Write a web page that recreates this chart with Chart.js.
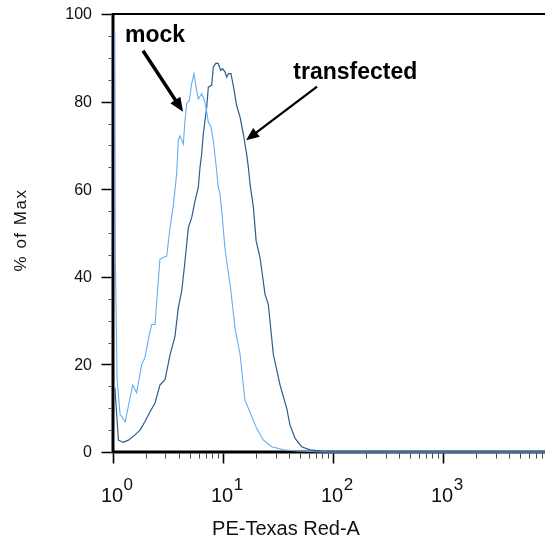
<!DOCTYPE html>
<html>
<head>
<meta charset="utf-8">
<script src="https://cdn.jsdelivr.net/npm/chart.js@4.4.1/dist/chart.umd.min.js"></script>
<style>
  html, body { margin: 0; padding: 0; background: #fff; }
  #wrap { width: 545px; height: 539px; }
</style>
</head>
<body>
<div id="wrap"><canvas id="histo" width="545" height="539"></canvas></div>
<script>
// PE-Texas Red-A fluorescence histograms (% of max), mock vs transfected
const mockFluor = [1.04, 1.05, 1.09, 1.16, 1.20, 1.29, 1.37, 1.51, 1.64, 1.82, 1.95, 2.17, 2.25, 2.41,
  2.58, 2.67, 2.85, 3.08, 3.30, 3.53, 3.79, 3.92, 4.06, 4.36, 4.51, 4.68, 4.94, 5.19, 5.45, 5.76, 5.96,
  6.40, 6.72, 7.00, 7.35, 7.73, 8.16, 8.63, 9.06, 9.39, 9.73, 10.4, 10.9, 11.6, 12.9, 14.3, 15.8, 17.0,
  20.2, 23.3, 27.7, 35.3, 43.6, 76, 8450];
const mockPct = [96.0, 44.0, 16.5, 8.5, 8.1, 6.9, 10.1, 15.3, 13.5, 19.9, 21.5, 27.6, 29.1, 29.1,
  39.0, 44.0, 44.4, 44.7, 51.3, 56.2, 63.5, 71.1, 72.2, 70.3, 75.7, 79.5, 80.3, 84.1, 86.4, 82.5, 80.6,
  81.8, 80.6, 78.7, 75.3, 74.5, 71.1, 65.7, 60.4, 58.9, 55.1, 46.7, 42.8, 38.3, 28.0, 22.2, 11.9, 10.0,
  5.4, 2.7, 1.2, 0.5, 0.3, 0, 0];

const transfectedFluor = [1.04, 1.12, 1.24, 1.38, 1.585, 1.76, 1.95, 2.17, 2.41, 2.67, 2.97, 3.30, 3.66,
  3.92, 4.21, 4.51, 4.84, 5.19, 5.56, 5.96, 6.18, 6.40, 6.62, 7.11, 7.35, 7.89, 8.16, 8.63, 9.06, 9.53,
  9.94, 10.4, 10.8, 11.2, 11.8, 12.4, 13.3, 14.3, 15.3, 16.4, 17.0, 17.6, 18.9, 20.0, 21.7, 24.1, 25.8,
  28.7, 33.0, 37.9, 40.6, 45.2, 51.9, 61.7, 71.1, 90, 8450];
const transfectedPct = [14.7, 2.7, 2.2, 2.7, 3.9, 5.0, 6.9, 9.2, 11.2, 15.3, 16.5, 22.2, 26.4,
  32.9, 36.7, 43.5, 51.2, 53.5, 57.3, 60.4, 65.0, 68.0, 72.6, 78.7, 83.3, 83.7, 87.9, 88.8, 88.7, 87.1,
  87.5, 86.8, 85.6, 86.4, 86.4, 83.7, 79.1, 76.4, 72.6, 68.0, 65.0, 61.2, 55.8, 48.2, 44.4, 36.0, 33.7,
  22.2, 15.3, 10.0, 6.2, 3.1, 1.2, 0.5, 0.3, 0, 0];

// axis ticks
const yTickValues = [0, 20, 40, 60, 80, 100];
const xDecades = [0, 1, 2, 3];
const X_MIN = 1, X_MAX = 8450;

const xTitle = 'PE-Texas Red-A';
const yTitle = '% of Max';

// callouts, positioned in data units
const callouts = [
  { text: 'mock', at: [1.285, 93.5], from: [1.875, 91.6], to: [4.33, 77.7], lw: 3.5, head: 14, headW: 12 },
  { text: 'transfected', at: [43.6, 85.2], from: [71.6, 83.4], to: [16.2, 71.2], lw: 2.2, head: 13, headW: 11 }
];

const toPoints = (xs, ys) => xs.map((v, i) => ({ x: v, y: ys[i] }));
const FONT = '"Liberation Sans", Arial, Helvetica, sans-serif';

const axesPlugin = {
  id: 'flowAxes',
  beforeDatasetsDraw(chart) {
    const { ctx, chartArea: { left, right, top, bottom }, scales: { x, y } } = chart;
    ctx.save();
    ctx.strokeStyle = '#000';
    ctx.lineCap = 'butt';

    // frame: left, bottom (heavy) and top
    ctx.lineWidth = 3;
    ctx.beginPath();
    ctx.moveTo(left, top - 1);
    ctx.lineTo(left, bottom + 1.5);
    ctx.moveTo(left - 1.5, bottom);
    ctx.lineTo(right, bottom);
    ctx.stroke();
    ctx.lineWidth = 2;
    ctx.beginPath();
    ctx.moveTo(left, top);
    ctx.lineTo(right, top);
    ctx.stroke();

    // y ticks: major every 20, minor every 5
    for (let v = 0; v <= 100; v += 5) {
      const py = Math.round(y.getPixelForValue(v)) + 0.5;
      const major = v % 20 === 0;
      ctx.lineWidth = major ? 1.5 : 1;
      ctx.strokeStyle = major ? '#000' : '#555';
      ctx.beginPath();
      ctx.moveTo(left - 1.5 - (major ? 10 : 3), py);
      ctx.lineTo(left - 1.5, py);
      ctx.stroke();
    }

    // x ticks: decades long, 2..9 short
    for (let d = 0; d <= 3; d++) {
      for (let m = 1; m <= 9; m++) {
        const v = m * Math.pow(10, d);
        if (v > X_MAX) break;
        const px = Math.round(x.getPixelForValue(v)) + 0.5;
        const major = m === 1;
        ctx.lineWidth = major ? 1.6 : 1;
        ctx.strokeStyle = major ? '#000' : '#444';
        ctx.beginPath();
        ctx.moveTo(px, bottom + 1.5);
        ctx.lineTo(px, bottom + 1.5 + (major ? 10 : 5));
        ctx.stroke();
      }
    }

    // y tick labels
    ctx.fillStyle = '#111';
    ctx.font = '16px ' + FONT;
    ctx.textAlign = 'right';
    ctx.textBaseline = 'middle';
    yTickValues.forEach(v => ctx.fillText(String(v), left - 21, y.getPixelForValue(v) + 1));

    // x tick labels as 10 with superscript exponent
    ctx.textBaseline = 'alphabetic';
    xDecades.forEach(d => {
      const px = x.getPixelForValue(Math.pow(10, d));
      ctx.font = '20px ' + FONT;
      ctx.textAlign = 'center';
      const w = ctx.measureText('10').width;
      ctx.fillText('10', px - 1, bottom + 50);
      ctx.font = '17px ' + FONT;
      ctx.textAlign = 'left';
      ctx.fillText(String(d), px - 1 + w / 2 + 0.5, bottom + 38);
    });

    // axis titles
    ctx.font = '20px ' + FONT;
    ctx.textAlign = 'center';
    ctx.fillText(xTitle, left + 173, bottom + 83);

    ctx.translate(26, (top + bottom) / 2 - 3);
    ctx.rotate(-Math.PI / 2);
    ctx.font = '17px ' + FONT;
    ctx.letterSpacing = '1.5px';
    ctx.fillText(yTitle, 0, 0);
    ctx.restore();
  }
};

function drawArrow(ctx, x1, y1, x2, y2, lw, head, headW) {
  const a = Math.atan2(y2 - y1, x2 - x1);
  const bx = x2 - Math.cos(a) * head, by = y2 - Math.sin(a) * head;
  ctx.lineWidth = lw;
  ctx.beginPath();
  ctx.moveTo(x1, y1);
  ctx.lineTo(bx + Math.cos(a) * 2, by + Math.sin(a) * 2);
  ctx.stroke();
  ctx.beginPath();
  ctx.moveTo(x2, y2);
  ctx.lineTo(bx + Math.sin(a) * headW / 2, by - Math.cos(a) * headW / 2);
  ctx.lineTo(bx - Math.sin(a) * headW / 2, by + Math.cos(a) * headW / 2);
  ctx.closePath();
  ctx.fill();
}

const calloutPlugin = {
  id: 'callouts',
  afterDatasetsDraw(chart) {
    const { ctx, scales: { x, y } } = chart;
    ctx.save();
    ctx.fillStyle = '#000';
    ctx.strokeStyle = '#000';
    ctx.font = 'bold 23px ' + FONT;
    ctx.textAlign = 'left';
    ctx.textBaseline = 'alphabetic';
    callouts.forEach(c => {
      ctx.fillText(c.text, x.getPixelForValue(c.at[0]), y.getPixelForValue(c.at[1]));
      drawArrow(ctx,
        x.getPixelForValue(c.from[0]), y.getPixelForValue(c.from[1]),
        x.getPixelForValue(c.to[0]), y.getPixelForValue(c.to[1]),
        c.lw, c.head, c.headW);
    });
    ctx.restore();
  }
};

new Chart(document.getElementById('histo'), {
  type: 'line',
  data: {
    datasets: [
      {
        label: 'mock',
        data: toPoints(mockFluor, mockPct),
        borderColor: '#62aef5',
        borderWidth: 1.1,
        pointRadius: 0,
        tension: 0,
        fill: false,
        clip: false
      },
      {
        label: 'transfected',
        data: toPoints(transfectedFluor, transfectedPct),
        borderColor: '#2b5d8e',
        borderWidth: 1.2,
        pointRadius: 0,
        tension: 0,
        fill: false,
        clip: false
      }
    ]
  },
  options: {
    responsive: false,
    animation: false,
    devicePixelRatio: 1,
    layout: { padding: { left: 113, top: 14, right: 0, bottom: 87 } },
    plugins: { legend: { display: false }, tooltip: { enabled: false } },
    scales: {
      x: { type: 'logarithmic', min: X_MIN, max: X_MAX, display: false },
      y: { type: 'linear', min: 0, max: 100, display: false }
    }
  },
  plugins: [axesPlugin, calloutPlugin]
});
</script>
</body>
</html>
